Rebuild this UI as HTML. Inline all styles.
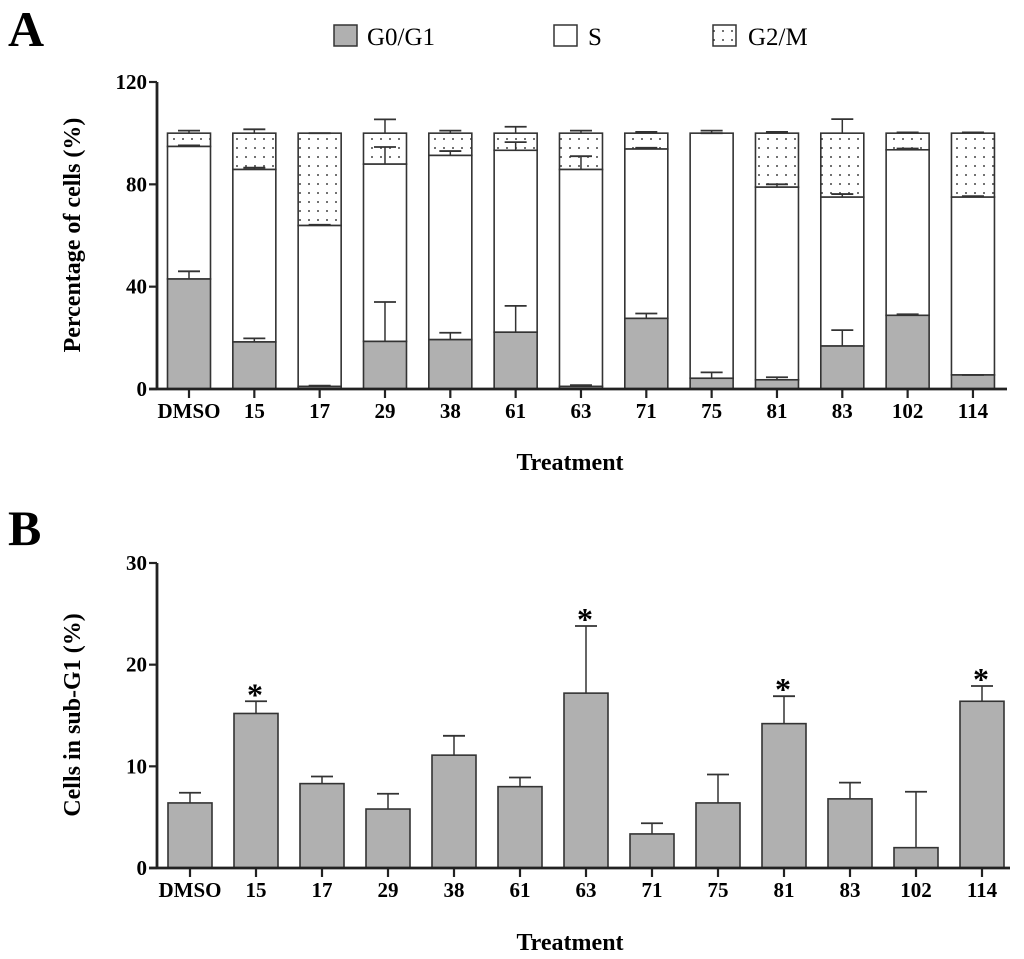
<!DOCTYPE html>
<html><head><meta charset="utf-8"><style>
body{margin:0;background:#fff;}
svg{display:block;font-family:"Liberation Serif",serif;}
</style></head><body>
<svg width="1024" height="959" viewBox="0 0 1024 959" xmlns="http://www.w3.org/2000/svg">
<defs>
<pattern id="dots" width="9" height="9" patternUnits="userSpaceOnUse">
<rect width="9" height="9" fill="#fff"/><circle cx="3" cy="4" r="1" fill="#444"/>
</pattern>
</defs>
<text x="8" y="46" font-size="50" font-weight="bold">A</text>
<text x="8" y="545" font-size="50" font-weight="bold">B</text>
<g>
<rect x="334" y="25" width="23" height="21" fill="#b0b0b0" stroke="#333" stroke-width="1.5"/>
<text x="367" y="45" font-size="25">G0/G1</text>
<rect x="554" y="25" width="23" height="21" fill="#fff" stroke="#333" stroke-width="1.5"/>
<text x="588" y="45" font-size="25">S</text>
<rect x="713" y="25" width="23" height="21" fill="url(#dots)" stroke="#333" stroke-width="1.5"/>
<text x="748" y="45" font-size="25">G2/M</text>
</g>
<g id="chartA"></g>
<g id="chartB"></g>
<text x="0" y="0" transform="translate(80,235) rotate(-90)" text-anchor="middle" font-size="24" font-weight="bold">Percentage of cells (%)</text>
<text x="570" y="470" text-anchor="middle" font-size="24" font-weight="bold">Treatment</text>
<text x="0" y="0" transform="translate(80,715) rotate(-90)" text-anchor="middle" font-size="24" font-weight="bold">Cells in sub-G1 (%)</text>
<text x="570" y="950" text-anchor="middle" font-size="24" font-weight="bold">Treatment</text>
</svg>
<script>
const categories=["DMSO","15","17","29","38","61","63","71","75","81","83","102","114"];
const g0Values=[43,18.4,1,18.6,19.3,22.2,1,27.6,4.2,3.6,16.8,28.8,5.5];
const g0Err=[46,19.8,1.3,34,22,32.5,1.5,29.5,6.5,4.6,23,29.2,5.5];
const sTop=[94.8,85.8,63.9,87.9,91.3,93.3,85.8,93.8,100,78.9,75,93.5,75];
const sErr=[95.2,86.5,64.2,94.6,93,96.5,91,94.3,100,80,76.2,94,75.4];
const totalTop=[100,100,100,100,100,100,100,100,100,100,100,100,100];
const totalErr=[101,101.5,100,105.4,101,102.5,101,100.5,101,100.5,105.5,100.3,100.3];
const ticksA=[0,40,80,120];
const subG1=[6.4,15.2,8.3,5.8,11.1,8.0,17.2,3.35,6.4,14.2,6.8,2.0,16.4];
const subG1Err=[7.4,16.4,9.0,7.3,13.0,8.9,23.8,4.4,9.2,16.9,8.4,7.5,17.9];
const sig=[false,true,false,false,false,false,true,false,false,true,false,false,true];
const ticksB=[0,10,20,30];

const NS="http://www.w3.org/2000/svg";
function mk(parent,tag,attrs,txt){const e=document.createElementNS(NS,tag);for(const k in attrs)e.setAttribute(k,attrs[k]);if(txt!==undefined)e.textContent=txt;parent.appendChild(e);return e;}
function errBar(g,x,y0,y1,name){
  const a=mk(g,'line',{x1:x,x2:x,y1:y0,y2:y1,stroke:'#333','stroke-width':1.5});
  
  
  const b=mk(g,'line',{x1:x-11,x2:x+11,y1:y1,y2:y1,stroke:'#333','stroke-width':1.8});
  
  
}
function axes(g,yFn,ticks,xFn,x0,x1,tag){
  const yax=mk(g,'line',{x1:x0,x2:x0,y1:yFn(ticks[ticks.length-1]),y2:yFn(0),stroke:'#222','stroke-width':2.8});
  
  
  const xax=mk(g,'line',{x1:x0-8,x2:x1,y1:yFn(0),y2:yFn(0),stroke:'#222','stroke-width':2.8});
  
  
  ticks.forEach(t=>{
    const l=mk(g,'line',{x1:x0-8,x2:x0,y1:yFn(t),y2:yFn(t),stroke:'#222','stroke-width':2.2});
    
    
    const tx=mk(g,'text',{x:x0-10,y:yFn(t)+7,'text-anchor':'end','font-size':21,'font-weight':'bold'},String(t));
    
    
  });
  categories.forEach((c,i)=>{
    const x=xFn(i);
    const l=mk(g,'line',{x1:x,x2:x,y1:yFn(0),y2:yFn(0)+9,stroke:'#222','stroke-width':2.2});
    
    
    const tx=mk(g,'text',{x:x,y:yFn(0)+29,'text-anchor':'middle','font-size':21,'font-weight':'bold'},c);
    
    
  });
}
// Chart A
(function(){
  const g=document.getElementById('chartA');
  const yA=v=>389-v*(307/120);
  const xA=i=>189+i*65.33;
  const bw=43;
  categories.forEach((c,i)=>{
    const x=xA(i);
    const r3=mk(g,'rect',{x:x-bw/2,y:yA(totalTop[i]),width:bw,height:yA(sTop[i])-yA(totalTop[i]),fill:'url(#dots)',stroke:'#333','stroke-width':1.6});
    
    
    const r2=mk(g,'rect',{x:x-bw/2,y:yA(sTop[i]),width:bw,height:yA(g0Values[i])-yA(sTop[i]),fill:'#fff',stroke:'#333','stroke-width':1.6});
    
    
    const r1=mk(g,'rect',{x:x-bw/2,y:yA(g0Values[i]),width:bw,height:yA(0)-yA(g0Values[i]),fill:'#b0b0b0',stroke:'#333','stroke-width':1.6});
    
    
    errBar(g,x,yA(g0Values[i]),yA(g0Err[i]),'error-g0g1-'+c);
    errBar(g,x,yA(sTop[i]),yA(sErr[i]),'error-s-'+c);
    errBar(g,x,yA(totalTop[i]),yA(totalErr[i]),'error-g2m-'+c);
  });
  axes(g,yA,ticksA,xA,157,1007,'a');
})();
// Chart B
(function(){
  const g=document.getElementById('chartB');
  const yB=v=>868-v*(305/30);
  const xB=i=>190+i*66;
  const bw=44;
  categories.forEach((c,i)=>{
    const x=xB(i);
    const r=mk(g,'rect',{x:x-bw/2,y:yB(subG1[i]),width:bw,height:yB(0)-yB(subG1[i]),fill:'#b0b0b0',stroke:'#333','stroke-width':1.6});
    
    
    errBar(g,x,yB(subG1[i]),yB(subG1Err[i]),'error-subg1-'+c);
    if(sig[i]){
      const s=mk(g,'text',{x:x-1,y:yB(subG1Err[i])+4,'text-anchor':'middle','font-size':32,'font-weight':'bold'},'*');
      
      
    }
  });
  axes(g,yB,ticksB,xB,157,1010,'b');
})();
</script>
</body></html>
